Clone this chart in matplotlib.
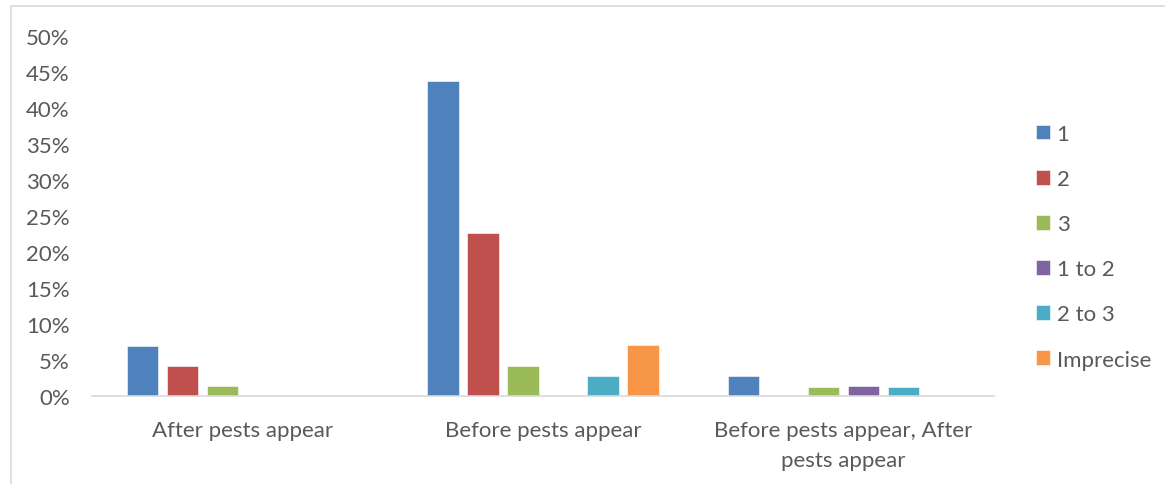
import matplotlib.pyplot as plt
import numpy as np
from matplotlib.patches import Rectangle
from matplotlib.ticker import FuncFormatter

plt.rcParams['font.family'] = ['Lato', 'DejaVu Sans']

# Share of respondents (%) by timing of treatment and number of sprays
categories = ["After pests appear", "Before pests appear", "Before pests appear, After\npests appear"]
series_names = ["1", "2", "3", "1 to 2", "2 to 3", "Imprecise"]
values = {
    "1":         [7.0, 43.7, 2.8],
    "2":         [4.2, 22.6, 0.0],
    "3":         [1.4, 4.2, 1.3],
    "1 to 2":    [0.0, 0.0, 1.45],
    "2 to 3":    [0.0, 2.8, 1.3],
    "Imprecise": [0.0, 7.1, 0.0],
}
colors = ["#4F81BD", "#C0504D", "#9BBB59", "#8064A2", "#4BACC6", "#F79646"]

fig = plt.figure(figsize=(11.65, 4.85), dpi=100)
ax = fig.add_axes([92 / 1165, 0.181, 902 / 1165, 0.743])

# light frame round the chart area
fig.patches.append(Rectangle((11 / 1165, -0.05), 1.2, 1 - 7 / 485 + 0.05,
                             transform=fig.transFigure, fill=False,
                             edgecolor="#d9d9d9", linewidth=1.2))

x = np.arange(len(categories))
slot = 0.1331
width = 0.105
for i, name in enumerate(series_names):
    offs = (i - 2.5) * slot
    ax.bar(x + offs, values[name], width, color=colors[i], label=name,
           edgecolor="white", linewidth=0.4)

ax.set_xlim(-0.5, 2.5)
ax.set_ylim(0, 50)
ax.set_yticks(range(0, 51, 5))
ax.yaxis.set_major_formatter(FuncFormatter(lambda v, p: f"{int(v)}%"))
ax.set_xticks(x)
ax.set_xticklabels(categories, linespacing=1.65)

for s in ["top", "right", "left"]:
    ax.spines[s].set_visible(False)
ax.spines["bottom"].set_color("#d9d9d9")
ax.spines["bottom"].set_linewidth(1.2)
ax.tick_params(axis="both", length=0, labelsize=16, colors="#595959")
ax.tick_params(axis="x", pad=17)
ax.tick_params(axis="y", pad=16)

leg = ax.legend(loc="upper left", bbox_to_anchor=(1.0366, 0.78), frameon=False,
                fontsize=16, handlelength=0.63, handleheight=0.63,
                handletextpad=0.3, labelspacing=1.13, borderaxespad=0)
for t in leg.get_texts():
    t.set_color("#595959")

fig.savefig("out.png", dpi=100)
